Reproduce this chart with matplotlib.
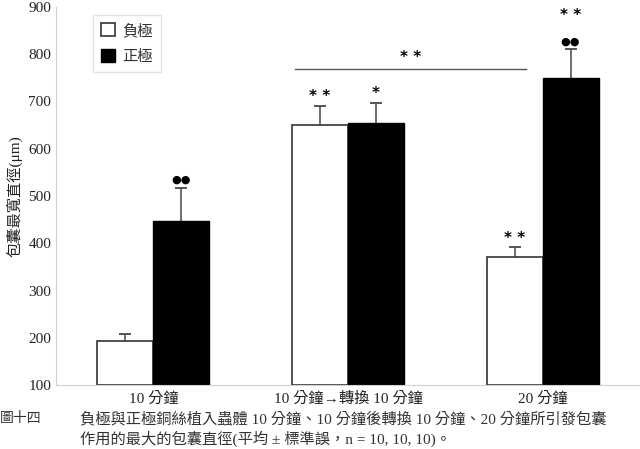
import matplotlib
matplotlib.use("Agg")
from matplotlib import pyplot as plt
from matplotlib.patches import Patch
import numpy as np

plt.rcParams['font.family'] = ['Liberation Serif', 'Noto Sans CJK TC', 'DejaVu Sans']

# 資料
groups = ['10 分鐘', '10 分鐘→轉換 10 分鐘', '20 分鐘']
neg_mean = [193, 650, 371]
neg_err = [15, 40, 21]
pos_mean = [447, 654, 750]
pos_err = [70, 43, 61]
series = ['負極', '正極']

fig = plt.figure(figsize=(6.4, 4.49), dpi=100)
ax = fig.add_axes([0.0875, 0.1425, 0.9125, 0.842])

x = np.arange(len(groups))
w = 0.287
base = 100

ax.bar(x - w/2, np.array(neg_mean) - base, w, bottom=base, color='white',
       edgecolor='#333333', linewidth=1.2, zorder=2)
ax.bar(x + w/2, np.array(pos_mean) - base, w, bottom=base, color='black',
       edgecolor='black', linewidth=1.0, zorder=2)

# 只畫向上的誤差線
for xs, m, e in [(x - w/2, neg_mean, neg_err), (x + w/2, pos_mean, pos_err)]:
    top = np.array(m) + np.array(e)
    ax.vlines(xs, m, top, color='#555555', linewidth=1.2, zorder=1)
    ax.plot(xs, top, linestyle='none', marker='_', markersize=9,
            markeredgewidth=1.4, color='#555555', zorder=1)

ax.set_xlim(-0.5, 2.5)
ax.set_ylim(100, 900)
ax.set_yticks(range(100, 901, 100))
ax.set_xticks(x)
ax.set_xticklabels(groups)
ax.tick_params(axis='both', length=0, labelsize=11, colors='#222222')
ax.tick_params(axis='x', pad=5)
for s in ['top', 'right']:
    ax.spines[s].set_visible(False)
for s in ['left', 'bottom']:
    ax.spines[s].set_color('#d0d0d0')
    ax.spines[s].set_linewidth(0.8)

ax.set_ylabel('包囊最寬直徑(μm)', fontsize=11, labelpad=4, color='#222222')

# 顯著性標記
sym = dict(ha='center', va='bottom', fontsize=11, fontweight='bold',
           family='DejaVu Sans', color='black')
dot = dict(ha='center', va='bottom', fontsize=8,
           family='DejaVu Sans', color='black')
ax.text(x[1] - w/2, neg_mean[1] + neg_err[1] + 5, '* *', **sym)
ax.text(x[1] + w/2, pos_mean[1] + pos_err[1] + 5, '*', **sym)
ax.text(x[2] - w/2, neg_mean[2] + neg_err[2] + 3, '* *', **sym)
ax.text(x[0] + w/2, pos_mean[0] + pos_err[0] + 6, '●●', **dot)
ax.text(x[2] + w/2, pos_mean[2] + pos_err[2] + 6, '●●', **dot)
ax.text(x[2] + w/2, pos_mean[2] + pos_err[2] + 55, '* *', **sym)

ax.plot([0.726, 1.915], [769, 769], color='#555555', linewidth=1.0)
ax.text(1.32, 777, '* *', **sym)

handles = [Patch(facecolor='white', edgecolor='#333333', linewidth=1.2),
           Patch(facecolor='black', edgecolor='black')]
leg = ax.legend(handles, series, loc='upper left', bbox_to_anchor=(0.063, 0.979),
                borderaxespad=0, fontsize=11, frameon=True, fancybox=False,
                handlelength=0.9, handleheight=0.9, handletextpad=0.5,
                borderpad=0.55, labelspacing=0.75, edgecolor='#dddddd')
for t in leg.get_texts():
    t.set_color('#333333')

fig.text(0.0, 0.068, '圖十四', fontsize=10, color='#333333', va='center')
fig.text(0.125, 0.068,
         '負極與正極銅絲植入蟲體 10 分鐘、10 分鐘後轉換 10 分鐘、20 分鐘所引發包囊',
         fontsize=11, color='#333333', va='center')
fig.text(0.125, 0.022, '作用的最大的包囊直徑(平均 ± 標準誤，n = 10, 10, 10)。',
         fontsize=11, color='#333333', va='center')

fig.savefig('out.png', dpi=100)
